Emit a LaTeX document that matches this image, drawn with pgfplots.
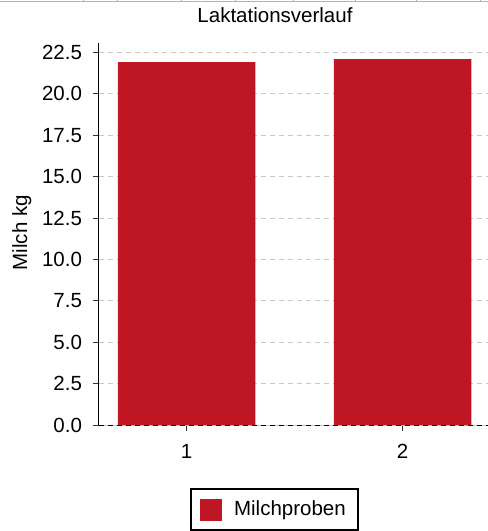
\documentclass[border=0pt]{standalone}
\usepackage{pgfplots}
\pgfplotsset{compat=1.18}
\usepackage{fontspec}
\setmainfont{Liberation Sans}
\definecolor{barred}{RGB}{190,22,36}
\definecolor{gridgray}{RGB}{200,200,200}
\begin{document}
\fontsize{20.5bp}{24bp}\selectfont
\begin{tikzpicture}
\useasboundingbox (-99bp,-106bp) rectangle (389bp,425bp);
\draw[gray!60, line width=1bp] (-99bp,423bp) -- (389bp,423bp);
\foreach \x in {83,117,181,235,293,355,416,480}
  \draw[gray!60, line width=0.8bp] (\x bp-99bp,423bp) -- (\x bp-99bp,425bp);
\begin{axis}[
  at={(0,0)}, anchor=south west,
  scale only axis, width=389bp, height=382bp,
  xmin=0.594, xmax=2.395, ymin=0, ymax=23.07,
  axis x line*=bottom, axis y line*=left,
  x axis line style={draw=gridgray, line width=1bp, -},
  y axis line style={draw=black, line width=1bp, -},
  xtick={1,2}, ytick={0,2.5,...,22.5},
  /pgf/number format/assume math mode=true,
  yticklabel style={/pgf/number format/fixed, /pgf/number format/fixed zerofill, /pgf/number format/precision=1, xshift=-4bp},
  tick align=outside, major tick length=6bp,
  tick style={draw=black!80, line width=0.8bp},
  xticklabel style={yshift=-6bp},
  ymajorgrids, grid style={draw=gridgray, line width=1bp, dash pattern=on 5bp off 4bp},
  extra y ticks={0}, extra y tick labels={},
  extra y tick style={grid style={draw=black, line width=1bp, dash pattern=on 5bp off 4bp}},
  ybar, bar width=137.5bp, bar shift=0pt,
  title={Laktationsverlauf},
  title style={at={(axis description cs:0.4524,1)}, anchor=base, yshift=15bp},
  ylabel={Milch kg},
  ylabel style={at={(axis description cs:-0.185,0.5037)}, anchor=base, rotate=0},
  legend style={at={(axis description cs:0.451,0)}, anchor=north, yshift=-63bp,
    draw=black, line width=2bp, inner xsep=0pt, inner ysep=0pt,
    nodes={inner sep=0pt}, legend cell align=left},
  legend image code/.code={\path[fill=none, draw=none] (-9bp,-20.5bp) rectangle (34bp,20.5bp);
    \fill[barred, draw=none] (0bp,-11bp) rectangle (22bp,11bp);},
]
\addplot[fill=barred, draw=none] coordinates {(1,21.91) (2,22.10)};
\addlegendentry{Milchproben\rule{12bp}{0pt}}
\end{axis}
\end{tikzpicture}
\end{document}
